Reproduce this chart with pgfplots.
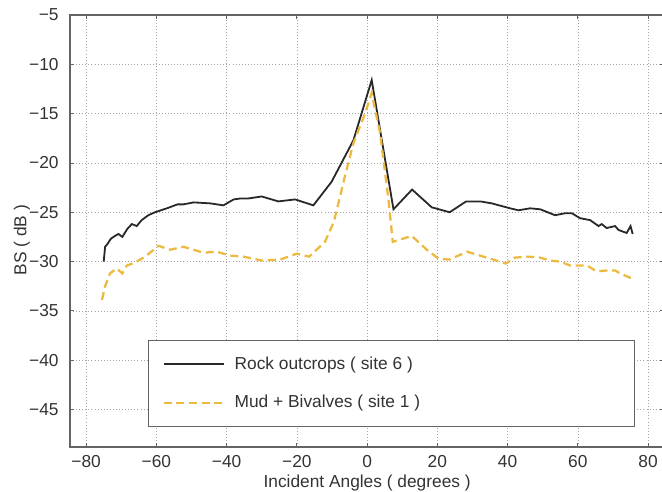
\documentclass[border=0pt]{standalone}
\usepackage{fontspec}
\setmainfont{Liberation Sans}
\usepackage{pgfplots}
\pgfplotsset{compat=1.18}
\definecolor{mudc}{RGB}{236,186,64}
\definecolor{rockc}{RGB}{40,40,40}
\definecolor{axc}{RGB}{100,100,100}
\begin{document}
\begin{tikzpicture}
\begin{axis}[
  at={(0,0)}, anchor=south west,
  scale only axis, width=445.7pt, height=324pt,
  xmin=-84.6, xmax=84.6, ymin=-48.8, ymax=-5,
  xtick={-80,-60,...,80},
  xticklabels={−80,−60,−40,−20,0,20,40,60,80},
  ytick={-45,-40,...,-5},
  yticklabels={−45,−40,−35,−30,−25,−20,−15,−10,−5},
  grid=major,
  grid style={gray!70, line width=0.5pt, dash pattern=on 0.7pt off 1.6pt},
  axis line style={axc, line width=0.8pt},
  tick style={axc, line width=0.6pt},
  major tick length=3pt,
  tick align=inside,
  ticklabel style={font=\fontsize{13}{15}\selectfont, text=black!80},
  xticklabel style={yshift=-3pt},
  yticklabel style={xshift=-5pt},
  xlabel={Incident Angles ( degrees )},
  xlabel style={at={(axis description cs:0.5,0)}, anchor=base, yshift=-30.5pt, font=\fontsize{13}{15}\selectfont, text=black!80},
  ylabel={BS ( dB )},
  ylabel style={at={(axis description cs:-0.0808,0.479)}, anchor=center, font=\fontsize{13}{15}\selectfont, text=black!80},
  legend image code/.code={\draw[#1] (0pt,0pt) -- (45pt,0pt);},
  legend cell align=left,
  legend style={at={(0.131,0.046)}, anchor=south west, draw=axc, line width=0.8pt, fill=white,
    font=\fontsize{13}{15}\selectfont, text=black!80,
    inner xsep=10.5pt, inner ysep=10.5pt, row sep=14pt, column sep=5.5pt,
    nodes={inner sep=2pt}},
]
\addplot[rockc, line width=1.35pt] coordinates {
(-75,-30.0) (-74.6,-28.5) (-73.9,-28.2) (-73,-27.7) (-71.8,-27.4) (-70.8,-27.2) (-69.7,-27.5)
(-68.3,-26.7) (-67,-26.2) (-65.6,-26.4) (-64.2,-25.8) (-62.3,-25.3) (-60.4,-25.0) (-57,-24.6)
(-54,-24.2) (-52.3,-24.2) (-49.4,-24.0) (-44.7,-24.1) (-40.9,-24.3) (-38,-23.7) (-36,-23.6)
(-33.8,-23.6) (-30,-23.4) (-25.3,-23.9) (-20.5,-23.7) (-15.3,-24.3) (-10.1,-21.9) (-3.9,-17.7)
(1.3,-11.6) (7.5,-24.7) (12.8,-22.7) (18.4,-24.5) (23.5,-25.0) (28.2,-23.9) (32.2,-23.9)
(35.5,-24.1) (40.7,-24.6) (43.1,-24.8) (46.4,-24.6) (49.3,-24.7) (53.5,-25.3) (56.4,-25.1)
(58.3,-25.1) (60.6,-25.6) (63.5,-25.8) (65.9,-26.4) (66.8,-26.2) (68.2,-26.6) (70.6,-26.4)
(71.6,-26.8) (73.9,-27.1) (75.0,-26.4) (75.6,-27.2)
};
\addlegendentry{\makebox[287.5pt][l]{Rock outcrops ( site 6 )}}
\addplot[mudc, line width=1.7pt, dash pattern=on 6pt off 3.5pt] coordinates {
(-75.5,-33.9) (-74.6,-32.5) (-73.2,-31.2) (-71.3,-30.7) (-69.7,-31.2) (-68.4,-30.4) (-66.1,-30.1)
(-63.2,-29.5) (-59.4,-28.4) (-56.1,-28.8) (-52.3,-28.5) (-46.6,-29.1) (-42.8,-29.0) (-39,-29.4)
(-35.2,-29.5) (-30,-29.9) (-24.8,-29.8) (-20,-29.2) (-16.5,-29.5) (-12,-28.0) (-9.5,-26.0)
(-7.7,-23.4) (-6.5,-21.6) (-3.9,-18.0) (-0.6,-15.0) (1.3,-12.9) (3.7,-17.0) (6.1,-23.8)
(7.3,-28.0) (12.7,-27.4) (17,-28.8) (20.3,-29.7) (23.4,-29.8) (28.5,-29.0) (32.2,-29.4)
(35,-29.7) (39.5,-30.2) (42.1,-29.6) (46,-29.5) (49.3,-29.6) (52.1,-29.9) (54.9,-30.0)
(57.8,-30.4) (62.6,-30.4) (65.4,-31.0) (68.2,-30.9) (70.6,-30.9) (72,-31.2) (75.3,-31.7)
};
\addlegendentry{\makebox[287.5pt][l]{Mud + Bivalves ( site 1 )}}
\end{axis}
\pgfresetboundingbox
\useasboundingbox (-52.5pt,-33.75pt) rectangle (444pt,335.25pt);
\end{tikzpicture}
\end{document}
